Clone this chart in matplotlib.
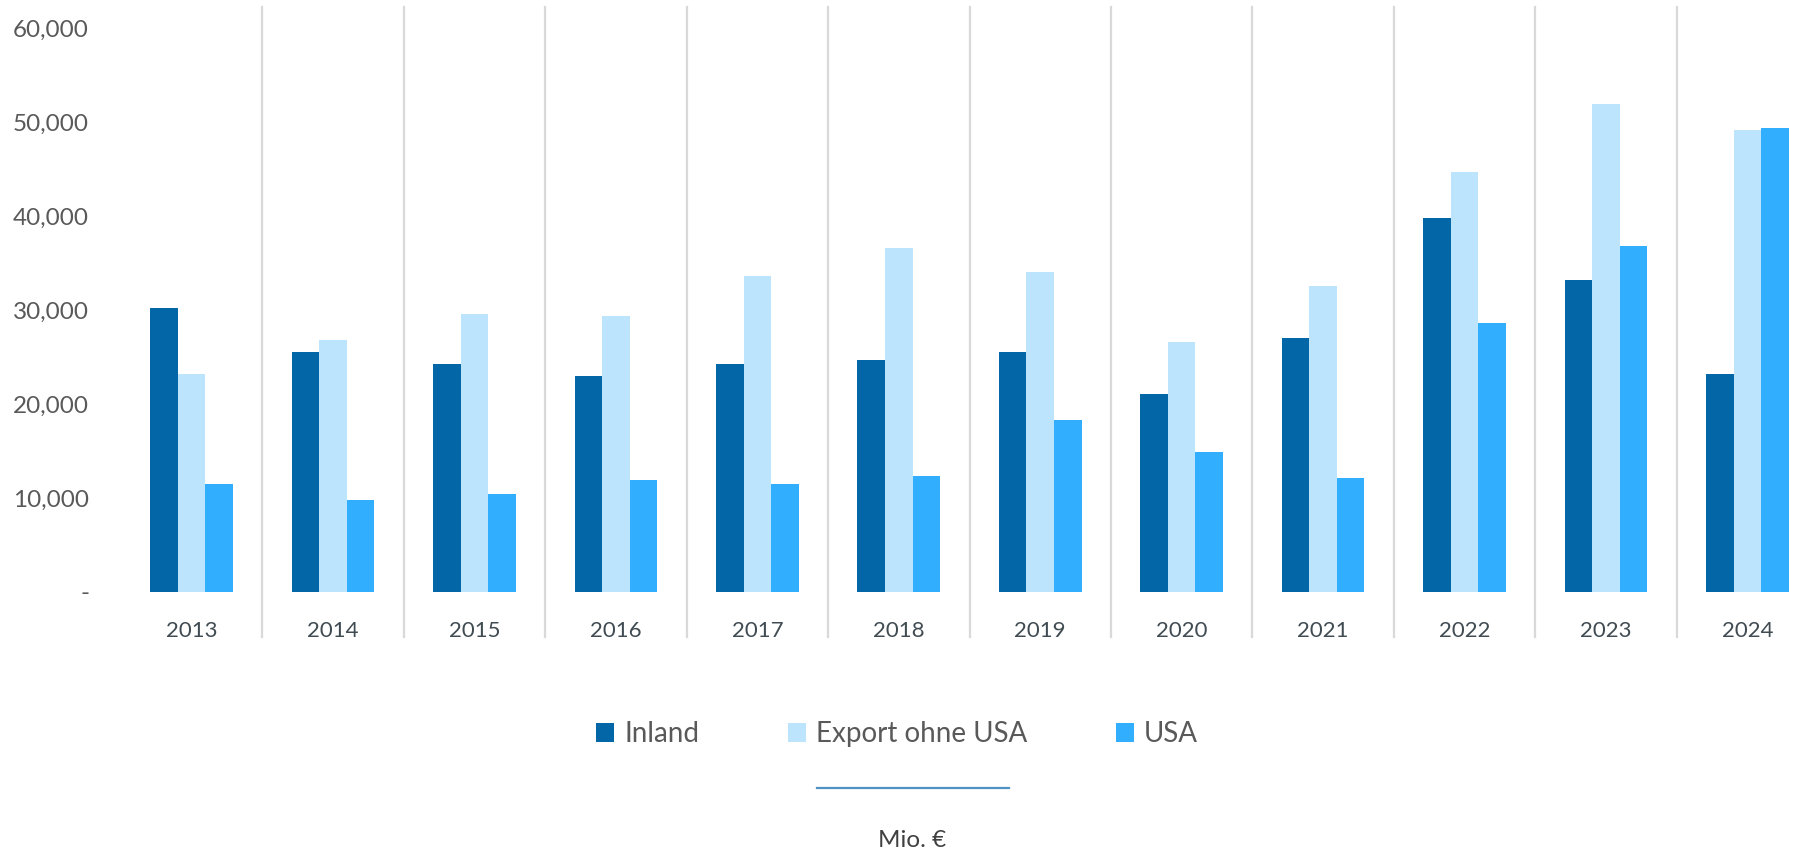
import numpy as np
import matplotlib
matplotlib.use("Agg")
from matplotlib import pyplot as plt
from matplotlib.lines import Line2D
from matplotlib.patches import Patch
from matplotlib.ticker import FuncFormatter

years = ["2013", "2014", "2015", "2016", "2017", "2018",
         "2019", "2020", "2021", "2022", "2023", "2024"]

# Mio. EUR
inland = [30200, 25600, 24300, 23000, 24300, 24700,
          25600, 21100, 27000, 39800, 33200, 23200]
export_ohne_usa = [23200, 26800, 29600, 29400, 33700, 36600,
                   34100, 26600, 32600, 44700, 52000, 49200]
usa = [11500, 9800, 10400, 11900, 11500, 12400,
       18300, 14900, 12100, 28700, 36800, 49400]

series_names = ["Inland", "Export ohne USA", "USA"]
colors = ["#0366A6", "#BDE4FD", "#31AEFD"]

plt.rcParams['font.family'] = ['Lato', 'DejaVu Sans']

W, H = 1794, 852
fig = plt.figure(figsize=(W / 100, H / 100), dpi=100)

# plot area runs a little past the right edge, as in the original
left_px, right_px, bottom_px, top_px = 121, 1818, 592, 7
ax = fig.add_axes([left_px / W, (H - bottom_px) / H,
                   (right_px - left_px) / W, (bottom_px - top_px) / H])

x = np.arange(len(years))
bw = 0.195
for i, (vals, name, col) in enumerate(zip([inland, export_ohne_usa, usa], series_names, colors)):
    ax.bar(x + (i - 1) * bw, vals, width=bw, color=col, label=name, linewidth=0)

ax.set_xlim(-0.5, len(years) - 0.5)
ax.set_ylim(0, 62300)

for s in ax.spines.values():
    s.set_visible(False)

# category separators, reaching down past the year labels
for xs in np.arange(len(years)) + 0.5:
    ax.axvline(xs, ymin=-0.077, ymax=1, color="#D9D9D9", lw=1.6, clip_on=False, zorder=0)

ax.set_yticks(np.arange(0, 60001, 10000))
ax.yaxis.set_major_formatter(FuncFormatter(lambda v, p: "-" if v == 0 else f"{int(v):,}"))
ax.tick_params(axis='y', length=0, pad=23, labelsize=17.5, labelcolor="#595959")
ax.set_xticks(x)
ax.set_xticklabels(years)
ax.tick_params(axis='x', length=0, pad=21, labelsize=16, labelcolor="#404B52")

handles = [Patch(facecolor=c, edgecolor='none') for c in colors]
leg = fig.legend(handles, series_names, loc='center', bbox_to_anchor=(897 / W, 1 - 734 / H),
                 ncol=3, frameon=False, fontsize=20, handlelength=0.65, handleheight=0.65,
                 handletextpad=0.35, columnspacing=3.2)
for t in leg.get_texts():
    t.set_color("#595959")

fig.add_artist(Line2D([817 / W, 1009 / W], [1 - 788 / H, 1 - 788 / H],
                      transform=fig.transFigure, color="#4F93C6", lw=1.6))
fig.text(912 / W, 1 - 847 / H, "Mio. €", ha='center', va='baseline',
         fontsize=17.5, color="#404040")

fig.savefig("out.png", dpi=100)
